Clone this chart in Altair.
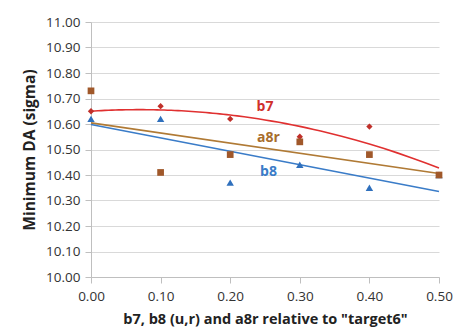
import altair as alt
import pandas as pd

x_vals = [0.0, 0.1, 0.2, 0.3, 0.4, 0.5]
b7 = [10.65, 10.67, 10.62, 10.55, 10.59, 10.40]
a8r = [10.73, 10.41, 10.48, 10.53, 10.48, 10.40]
b8 = [10.62, 10.62, 10.37, 10.44, 10.35, 10.40]
y_ticks = [10.0, 10.1, 10.2, 10.3, 10.4, 10.5, 10.6, 10.7, 10.8, 10.9, 11.0]

series_names = ["b7", "a8r", "b8"]
marker_colors = {"b7": "#C0302A", "a8r": "#A0582A", "b8": "#2F70BD"}
line_colors = {"b7": "#E03030", "a8r": "#B07A35", "b8": "#3A7CC8"}
label_colors = {"b7": "#D0302C", "a8r": "#A86D2C", "b8": "#3A7CC8"}
label_x = [0.25, 0.255, 0.255]
label_y = [10.667, 10.545, 10.41]

rows = []
for name, vals in zip(series_names, [b7, a8r, b8]):
    for xv, yv in zip(x_vals, vals):
        rows.append({"x": xv, "y": yv, "series": name})
df = pd.DataFrame(rows)

labels = pd.DataFrame({"series": series_names, "x": label_x, "y": label_y})

FONT = "Open Sans"
xs = alt.Scale(domain=[0, 0.5], nice=False)
ys = alt.Scale(domain=[10.0, 11.0], nice=False)

x_axis = alt.Axis(values=x_vals, format=".2f", title='b7, b8 (u,r) and a8r relative to "target6"',
                  grid=False, domainColor="#BFBFBF", tickColor="#BFBFBF", tickSize=6,
                  labelFontSize=13.5, labelColor="#333333", labelPadding=6, labelFont=FONT,
                  labelFlush=False, labelOverlap=False,
                  titleFont=FONT, titleFontSize=14.5, titleFontWeight="bold", titleColor="#222222",
                  titlePadding=10)
y_axis = alt.Axis(values=y_ticks, format=".2f",
                  title="Minimum DA (sigma)", grid=True, gridColor="#D9D9D9",
                  domainColor="#BFBFBF", tickColor="#BFBFBF", tickSize=6,
                  labelFontSize=13.5, labelColor="#333333", labelPadding=5, labelFont=FONT,
                  labelFlush=False, labelOverlap=False,
                  titleFont=FONT, titleFontSize=15.5, titleFontWeight="bold", titleColor="#222222",
                  titlePadding=8)

X = alt.X("x:Q", scale=xs, axis=x_axis)
Y = alt.Y("y:Q", scale=ys, axis=y_axis)

base = alt.Chart(df)

layers = []
for name in series_names:
    method = "poly" if name == "b7" else "linear"
    kw = {"order": 2} if name == "b7" else {}
    ln = base.transform_filter(alt.datum.series == name).transform_regression(
        "x", "y", method=method, extent=[0, 0.5], **kw
    ).mark_line(color=line_colors[name], strokeWidth=1.6).encode(x=X, y=Y)
    layers.append(ln)

shapes = {"b7": "diamond", "a8r": "square", "b8": "triangle-up"}
sizes = {"b7": 40, "a8r": 45, "b8": 55}
for name in ["b8", "b7", "a8r"]:
    pts = base.transform_filter(alt.datum.series == name).mark_point(
        shape=shapes[name], filled=True, color=marker_colors[name], size=sizes[name], opacity=1
    ).encode(x=X, y=Y)
    layers.append(pts)

for name in series_names:
    t = alt.Chart(labels).transform_filter(alt.datum.series == name).mark_text(
        font=FONT, fontSize=14, fontWeight="bold", color=label_colors[name]
    ).encode(x=X, y=Y, text="series:N")
    layers.append(t)

chart = alt.layer(*layers).properties(
    width=348, height=255,
    autosize=alt.AutoSizeParams(type="none"),
    padding={"left": 91, "top": 22, "right": 18, "bottom": 59},
    background="white",
).configure_view(stroke=None)

chart.save("out.html", embed_options={"renderer": "svg", "actions": False})
